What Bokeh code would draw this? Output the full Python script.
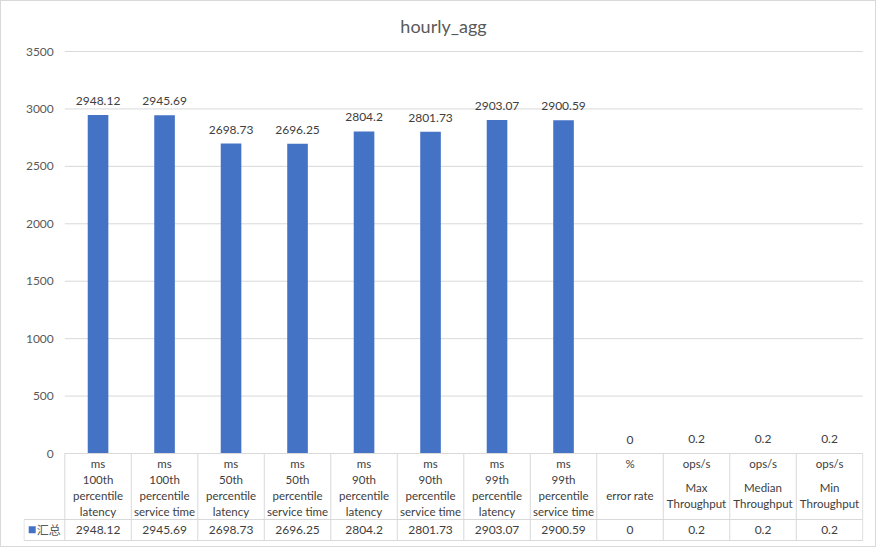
from bokeh.plotting import figure
from bokeh.models import Range1d, LinearAxis, FixedTicker, ColumnDataSource
from bokeh.core.properties import value
from bokeh.embed import file_html
from bokeh.resources import INLINE

# ---- data ----
units = ["ms"] * 8 + ["%", "ops/s", "ops/s", "ops/s"]
names = [
    "100th\npercentile\nlatency",
    "100th\npercentile\nservice time",
    "50th\npercentile\nlatency",
    "50th\npercentile\nservice time",
    "90th\npercentile\nlatency",
    "90th\npercentile\nservice time",
    "99th\npercentile\nlatency",
    "99th\npercentile\nservice time",
    "error rate",
    "Max\nThroughput",
    "Median\nThroughput",
    "Min\nThroughput",
]
values = [2948.12, 2945.69, 2698.73, 2696.25, 2804.2, 2801.73, 2903.07, 2900.59, 0, 0.2, 0.2, 0.2]
series_name = "汇总"
y_ticks = [0, 500, 1000, 1500, 2000, 2500, 3000, 3500]
title_text = "hourly_agg"

# ---- styling / layout ----
BLUE = "#4472C4"
GRID = "#d9d9d9"
TXT = "#595959"
DARK = "#404040"
FONT = "Lato"

UPP = 3500 / 402.0          # data units per pixel (y)
def ypx(dpx):               # pixels below the zero line -> data units
    return -dpx * UPP

n = len(values)
xs = [i + 0.5 for i in range(n)]
label_txt = [f"{v:g}" for v in values]

p = figure(width=876, height=547, output_backend="svg", toolbar_location=None,
           title=title_text,
           x_range=Range1d(-0.621, 12.011),
           y_range=Range1d(ypx(89), 3500 + 10 * UPP),
           x_axis_location=None, y_axis_location=None,
           min_border_left=22, min_border_right=14, min_border_top=40, min_border_bottom=6)
p.styles = {"border": "1px solid #d9d9d9", "box-sizing": "border-box"}
p.outline_line_color = None
p.xgrid.visible = False
p.ygrid.visible = False
p.title.align = "center"
p.title.text_font = FONT
p.title.text_font_size = "18px"
p.title.text_font_style = "normal"
p.title.text_color = TXT
p.title.standoff = 10

# y axis placed at the left edge of the category area
yax = LinearAxis(ticker=FixedTicker(ticks=y_ticks), fixed_location=0)
yax.axis_line_color = None
yax.major_tick_line_color = None
yax.minor_tick_line_color = None
yax.major_label_standoff = 5
yax.major_label_text_font = FONT
yax.major_label_text_font_size = "12px"
yax.major_label_text_color = TXT
p.add_layout(yax, "left")

# gridlines
gt = y_ticks[1:]
p.segment(x0=[0] * len(gt), x1=[n] * len(gt), y0=gt, y1=gt, line_color=GRID, line_width=1)

# bars
src = ColumnDataSource(dict(x=xs, top=values, lab=label_txt, unit=units, name=names))
p.vbar(x="x", top="top", width=0.31, source=src, fill_color=BLUE, line_color=None)
p.text(x="x", y="top", text="lab", source=src, y_offset=-14, text_align="center",
       text_baseline="middle", text_font=value(FONT), text_font_size="12px", text_color=DARK)

# data table
y_sep = ypx(66)
y_bot = ypx(87)
x_left = -0.614
p.segment(x0=[0, x_left, x_left], x1=[n, n, n], y0=[0, y_sep, y_bot], y1=[0, y_sep, y_bot],
          line_color=GRID, line_width=1)
vx = list(range(n + 1))
p.segment(x0=vx, x1=vx, y0=[0] * len(vx), y1=[y_bot] * len(vx), line_color=GRID, line_width=1)
p.segment(x0=[x_left], x1=[x_left], y0=[y_sep], y1=[y_bot], line_color=GRID, line_width=1)

p.text(x="x", y=ypx(9.7), text="unit", source=src, text_align="center", text_baseline="middle",
       text_font=value(FONT), text_font_size="11.5px", text_color=DARK)
p.text(x="x", y=ypx(42), text="name", source=src, text_align="center", text_baseline="middle",
       text_font=value(FONT), text_font_size="11.5px", text_color=DARK, text_line_height=1.2)
p.text(x="x", y=ypx(76.3), text="lab", source=src, text_align="center", text_baseline="middle",
       text_font=value(FONT), text_font_size="12px", text_color=DARK)

# series key cell
p.scatter(x=[-0.49], y=[ypx(76.3)], marker="square", size=7, fill_color=BLUE, line_color=None)
p.text(x=[-0.42], y=[ypx(76.3)], text=[series_name], text_align="left", text_baseline="middle",
       text_font=value("Noto Sans CJK SC"), text_font_size="12px", text_color=TXT)

open("out.html", "w").write(file_html(p, INLINE))
